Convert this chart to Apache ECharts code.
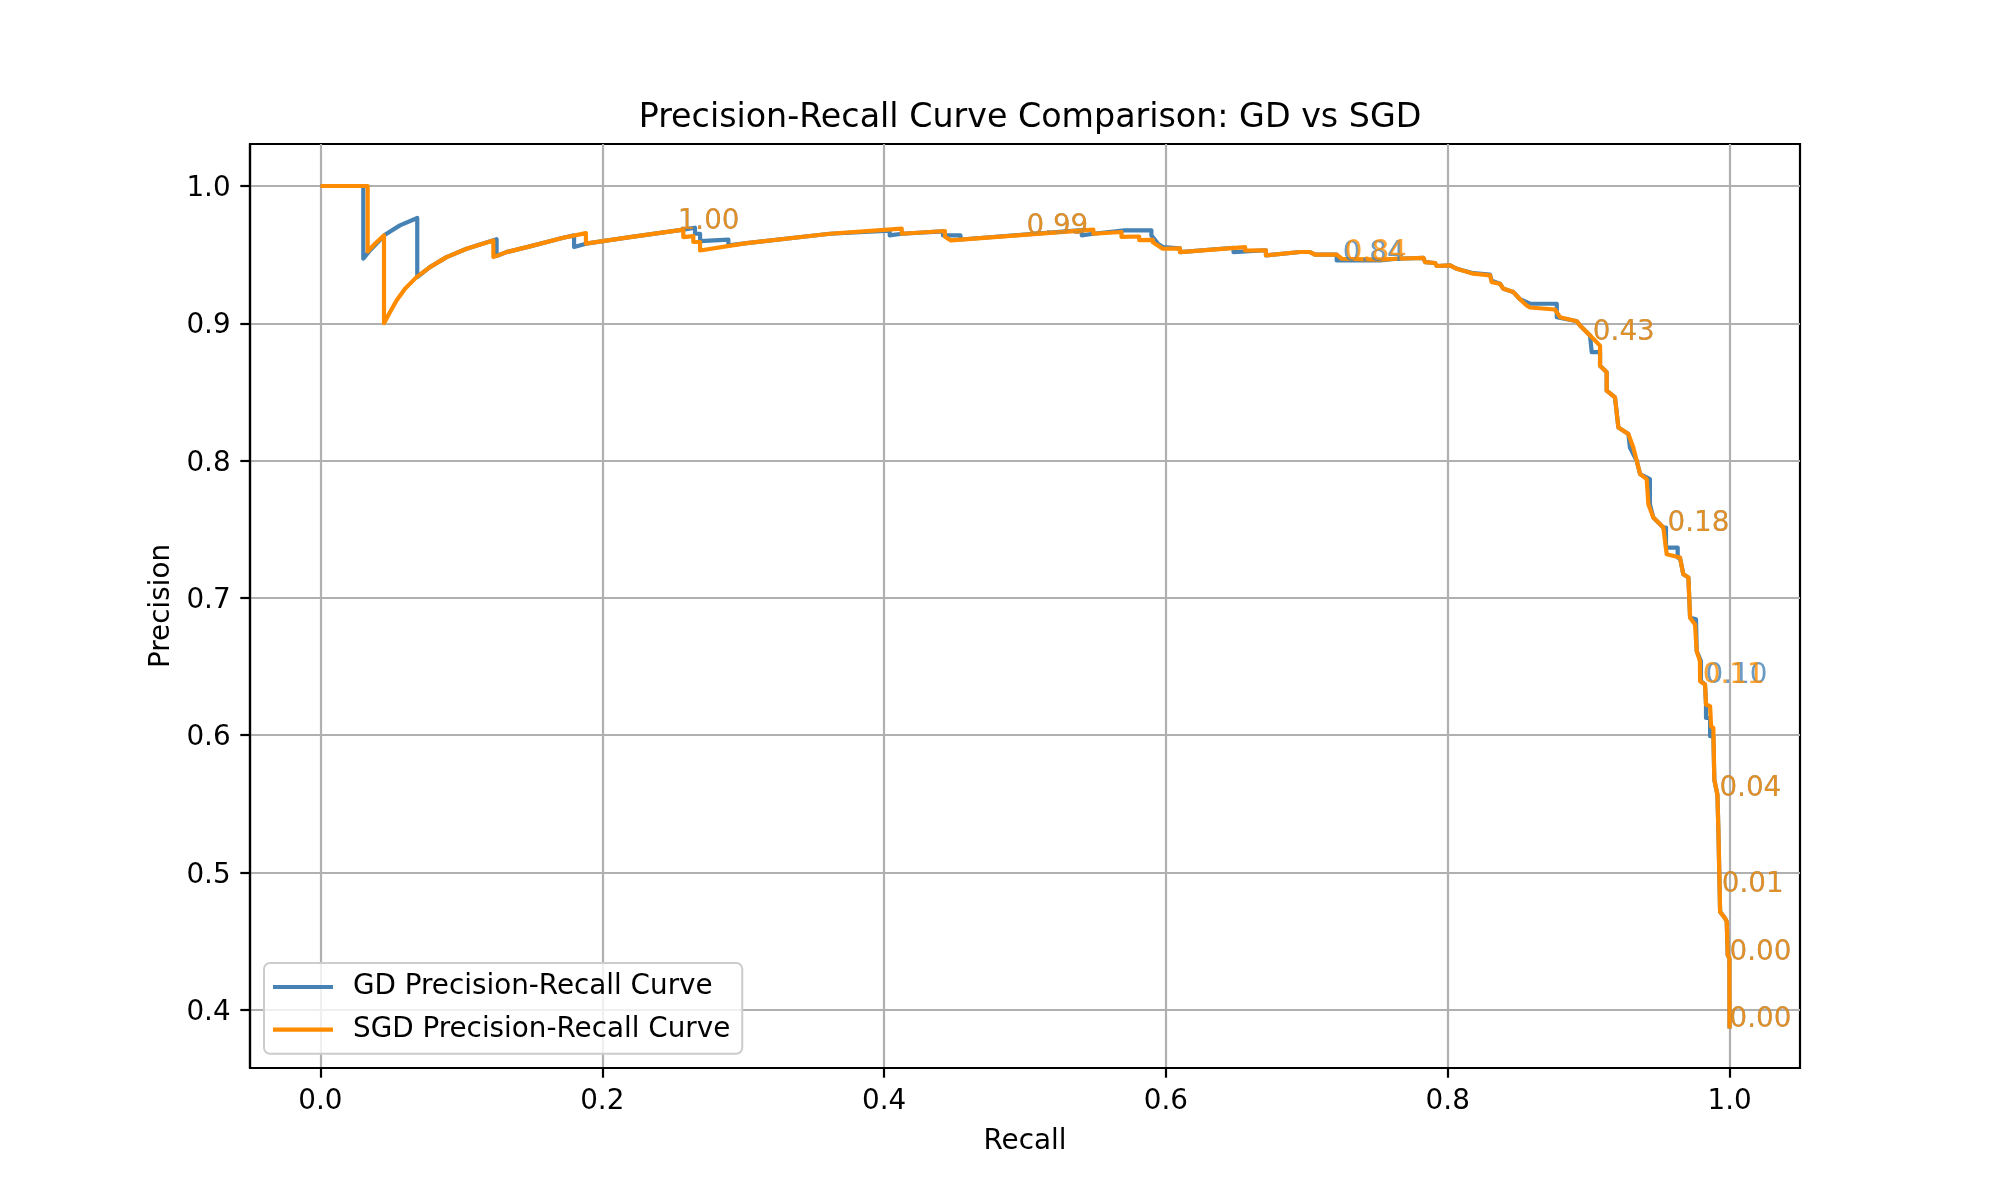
<!DOCTYPE html>
<html><head><meta charset="utf-8">
<script src="https://cdn.jsdelivr.net/npm/echarts@6.0.0/dist/echarts.min.js"></script>
<style>html,body{margin:0;padding:0;background:#fff}#c{width:2000px;height:1200px}</style>
</head><body><div id="c"></div>
<script>
const xTicks = [0, 0.2, 0.4, 0.6, 0.8, 1.0];
const yTicks = [0.4, 0.5, 0.6, 0.7, 0.8, 0.9, 1.0];

const gdCurve = [[0,1.0],[0.0304,1.0],[0.0304,0.947],[0.0351,0.953],[0.0458,0.9645],[0.0564,0.9713],[0.0687,0.9767],[0.0687,0.9336],[0.0777,0.9409],[0.0895,0.9482],[0.1037,0.9543],[0.125,0.9612],[0.125,0.949],[0.132,0.9518],[0.1487,0.956],[0.1723,0.9623],[0.18,0.964],[0.18,0.9555],[0.1884,0.958],[0.2197,0.9628],[0.2575,0.9682],[0.2658,0.9696],[0.2658,0.9652],[0.2694,0.9652],[0.2694,0.9599],[0.2895,0.961],[0.2895,0.9567],[0.3025,0.9584],[0.3616,0.9652],[0.404,0.9675],[0.404,0.964],[0.4125,0.9652],[0.4418,0.967],[0.4418,0.964],[0.4542,0.964],[0.4542,0.961],[0.5403,0.9678],[0.5403,0.964],[0.5485,0.9652],[0.5707,0.9677],[0.5897,0.9677],[0.5897,0.964],[0.5943,0.958],[0.5978,0.9555],[0.5978,0.9543],[0.61,0.9545],[0.61,0.9518],[0.648,0.955],[0.648,0.9518],[0.671,0.9532],[0.671,0.9494],[0.6952,0.9519],[0.7023,0.9519],[0.7058,0.95],[0.7212,0.95],[0.7212,0.9458],[0.752,0.9458],[0.7638,0.947],[0.7827,0.9477],[0.7839,0.9446],[0.791,0.9439],[0.7922,0.9417],[0.8017,0.9422],[0.8064,0.9397],[0.8182,0.9365],[0.83,0.9355],[0.8312,0.931],[0.8371,0.9288],[0.8395,0.9251],[0.8466,0.9227],[0.8513,0.9175],[0.8584,0.9142],[0.8774,0.9142],[0.8774,0.9044],[0.8916,0.9015],[0.8939,0.8983],[0.901,0.891],[0.9022,0.8789],[0.9081,0.8789],[0.9081,0.8691],[0.9128,0.8643],[0.9128,0.851],[0.9187,0.846],[0.9211,0.8241],[0.9282,0.8193],[0.9293,0.8095],[0.9341,0.7998],[0.9365,0.7901],[0.9435,0.7864],[0.9435,0.7682],[0.9459,0.7585],[0.953,0.7512],[0.9549,0.7512],[0.9549,0.7366],[0.9632,0.7366],[0.9632,0.7293],[0.9648,0.7293],[0.9672,0.7171],[0.9708,0.7147],[0.972,0.6855],[0.9762,0.6843],[0.9767,0.6611],[0.9797,0.6538],[0.9797,0.6392],[0.9826,0.6368],[0.9833,0.6222],[0.9833,0.6124],[0.9862,0.6124],[0.9862,0.5991],[0.9885,0.5991],[0.9892,0.5674],[0.9914,0.5565],[0.9921,0.5297],[0.9933,0.5297],[0.9933,0.4713],[0.9968,0.4665],[0.998,0.464],[0.9987,0.4397],[0.9999,0.4373],[1.0,0.3862]];

const sgdCurve = [[0,1.0],[0.0335,1.0],[0.0335,0.9523],[0.0387,0.9579],[0.0451,0.964],[0.0451,0.9],[0.0493,0.908],[0.054,0.9166],[0.06,0.9251],[0.0682,0.9336],[0.0777,0.9409],[0.0895,0.9482],[0.1037,0.9543],[0.1227,0.9603],[0.1227,0.9482],[0.132,0.9518],[0.1487,0.956],[0.1723,0.9623],[0.1884,0.9657],[0.1884,0.958],[0.2197,0.9628],[0.2575,0.9682],[0.2575,0.9628],[0.2646,0.9635],[0.2646,0.9592],[0.2694,0.9592],[0.2694,0.953],[0.3025,0.9584],[0.3616,0.9652],[0.4125,0.9689],[0.4125,0.9652],[0.4432,0.9672],[0.4432,0.963],[0.4474,0.9604],[0.5485,0.9682],[0.5485,0.9652],[0.5685,0.9665],[0.5685,0.9629],[0.581,0.9632],[0.581,0.9606],[0.5907,0.9608],[0.5907,0.959],[0.5943,0.9567],[0.5978,0.9543],[0.61,0.9545],[0.61,0.9518],[0.6562,0.9555],[0.6562,0.953],[0.671,0.9532],[0.671,0.9494],[0.6952,0.9519],[0.7023,0.9519],[0.7058,0.95],[0.7212,0.95],[0.7248,0.947],[0.752,0.9463],[0.7638,0.947],[0.7827,0.9477],[0.7839,0.9446],[0.791,0.9439],[0.7922,0.9417],[0.8017,0.9422],[0.8064,0.9397],[0.8182,0.9361],[0.83,0.9349],[0.8312,0.93],[0.8371,0.9288],[0.8395,0.9251],[0.8466,0.9227],[0.8513,0.9175],[0.856,0.913],[0.8584,0.9115],[0.8761,0.91],[0.8797,0.9044],[0.8916,0.9015],[0.8939,0.8983],[0.901,0.891],[0.9081,0.8837],[0.9081,0.8691],[0.9128,0.8643],[0.9128,0.851],[0.9187,0.846],[0.9211,0.8241],[0.9282,0.8193],[0.9317,0.8095],[0.9341,0.7998],[0.9365,0.7901],[0.9412,0.7864],[0.9424,0.7682],[0.9459,0.7585],[0.953,0.7512],[0.9554,0.7317],[0.9648,0.7293],[0.9672,0.7171],[0.9708,0.7147],[0.972,0.6855],[0.9755,0.6806],[0.9767,0.6611],[0.979,0.6538],[0.9791,0.6392],[0.9826,0.6368],[0.9833,0.6222],[0.9862,0.621],[0.9869,0.6064],[0.9885,0.6051],[0.9892,0.5674],[0.9914,0.5565],[0.9921,0.5297],[0.9933,0.5297],[0.9933,0.4713],[0.9968,0.4665],[0.998,0.464],[0.9987,0.4397],[0.9999,0.4373],[1.0,0.3862]];

const gdLabelText = ['1.00','0.99','0.84','0.43','0.18','0.10','0.04','0.01','0.00','0.00'];
const gdLabelPts = [[0.2535,0.969],[0.501,0.9655],[0.7255,0.9452],[0.903,0.888],[0.956,0.749],[0.983,0.638],[0.9928,0.5555],[0.9945,0.4861],[1.0,0.4363],[1.0,0.3876]];
const sgdLabelText = ['1.00','0.99','0.84','0.43','0.18','0.11','0.04','0.01','0.00','0.00'];
const sgdLabelPts = [[0.2535,0.969],[0.501,0.9655],[0.727,0.946],[0.903,0.888],[0.956,0.749],[0.981,0.638],[0.9928,0.5555],[0.9945,0.4861],[1.0,0.4363],[1.0,0.3876]];

const FONT = 'DejaVu Sans';
const BLUE = '#4682B4';
const ORANGE = '#FF8C00';

function labelSeries(pts, texts, color) {
  return {
    type: 'scatter',
    symbol: 'circle',
    symbolSize: 0,
    itemStyle: { color: 'rgba(0,0,0,0)' },
    silent: true,
    z: 5,
    data: pts.map((p, i) => ({ value: p, name: texts[i] })),
    label: {
      show: true,
      formatter: '{b}',
      position: 'right',
      distance: 0,
      offset: [0, -7],
      color: color,
      fontSize: 27.8,
      fontFamily: FONT,
      align: 'left',
      verticalAlign: 'middle'
    }
  };
}

const chart = echarts.init(document.getElementById('c'), null, { renderer: 'canvas' });
chart.setOption({
  animation: false,
  backgroundColor: '#fff',
  title: {
    text: 'Precision-Recall Curve Comparison: GD vs SGD',
    left: 1025,
    top: 97,
    textAlign: 'center',
    textStyle: { fontFamily: FONT, fontSize: 33.3, fontWeight: 'normal', color: '#000' }
  },
  legend: {
    data: ['GD Precision-Recall Curve', 'SGD Precision-Recall Curve'],
    orient: 'vertical',
    left: 264,
    top: 963,
    itemWidth: 60,
    itemHeight: 4.2,
    icon: 'rect',
    itemGap: 10.7,
    padding: [8, 12, 8, 9],
    borderColor: '#cccccc',
    borderWidth: 2,
    borderRadius: 6,
    backgroundColor: 'rgba(255,255,255,0.8)',
    selectedMode: false,
    textStyle: { fontFamily: FONT, fontSize: 27.8, color: '#000', lineHeight: 32, padding: [0, 0, 0, 15] }
  },
  grid: {
    left: 250, right: 200, top: 144, bottom: 132,
    show: true, borderColor: '#000', borderWidth: 2.2, backgroundColor: 'transparent'
  },
  xAxis: {
    type: 'value',
    min: -0.05, max: 1.05,
    name: 'Recall',
    nameLocation: 'middle',
    nameGap: 58,
    nameTextStyle: { fontFamily: FONT, fontSize: 27.8, color: '#000', lineHeight: 32 },
    axisLine: { show: true, onZero: false, lineStyle: { color: '#000', width: 2.2 } },
    axisTick: { show: true, inside: false, length: 9.7, customValues: xTicks, lineStyle: { color: '#000', width: 2.2 } },
    axisLabel: { show: true, customValues: xTicks, margin: 19.4, fontFamily: FONT, fontSize: 27.8, color: '#000',
      formatter: v => v.toFixed(1) },
    splitLine: { show: true, lineStyle: { color: '#b0b0b0', width: 2.2 } }
  },
  yAxis: {
    type: 'value',
    min: 0.3574, max: 1.0306,
    name: 'Precision',
    nameLocation: 'middle',
    nameGap: 72,
    nameMoveOverlap: false,
    nameTextStyle: { fontFamily: FONT, fontSize: 27.8, color: '#000', lineHeight: 32 },
    axisLine: { show: true, onZero: false, lineStyle: { color: '#000', width: 2.2 } },
    axisTick: { show: true, inside: false, length: 9.7, customValues: yTicks, lineStyle: { color: '#000', width: 2.2 } },
    axisLabel: { show: true, customValues: yTicks, margin: 19.4, fontFamily: FONT, fontSize: 27.8, color: '#000',
      formatter: v => '{t|' + v.toFixed(1) + '}',
      rich: { t: { fontFamily: FONT, fontSize: 27.8, color: '#000', padding: [6, 0, 0, 0] } } },
    splitLine: { show: true, lineStyle: { color: '#b0b0b0', width: 2.2 } }
  },
  series: [
    {
      name: 'GD Precision-Recall Curve',
      type: 'line',
      data: gdCurve,
      symbol: 'none',
      showSymbol: false,
      silent: true,
      color: BLUE,
      lineStyle: { color: BLUE, width: 4.2, join: 'round' },
      z: 2
    },
    {
      name: 'SGD Precision-Recall Curve',
      type: 'line',
      data: sgdCurve,
      symbol: 'none',
      showSymbol: false,
      silent: true,
      color: ORANGE,
      lineStyle: { color: ORANGE, width: 4.2, join: 'round' },
      z: 3
    },
    labelSeries(gdLabelPts, gdLabelText, BLUE),
    labelSeries(sgdLabelPts, sgdLabelText, ORANGE)
  ]
});
</script>
</body></html>
